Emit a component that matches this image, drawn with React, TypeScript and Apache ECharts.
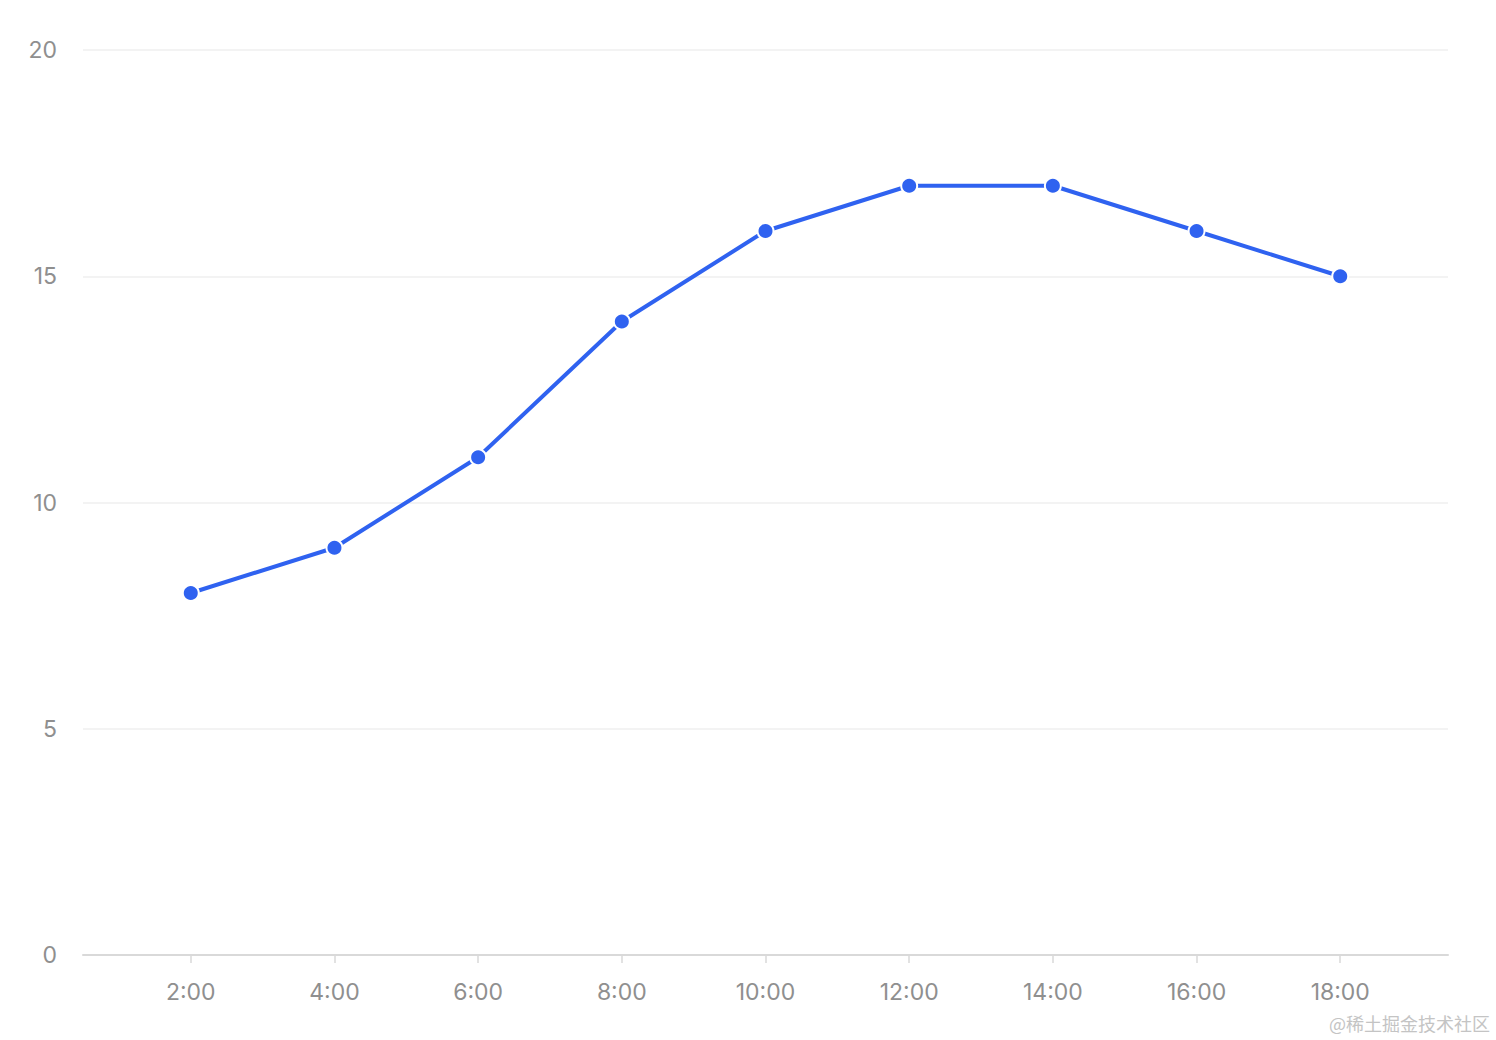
import React, { useEffect, useRef } from "react";
import * as echarts from "echarts";

const hours = [2, 4, 6, 8, 10, 12, 14, 16, 18];
const hourLabels = ["2:00", "4:00", "6:00", "8:00", "10:00", "12:00", "14:00", "16:00", "18:00"];
const values = [8, 9, 11, 14, 16, 17, 17, 16, 15];
const yTicks = [0, 5, 10, 15, 20];

export default function App() {
  const ref = useRef<HTMLDivElement>(null);
  useEffect(() => {
    if (!ref.current) return;
    const chart = echarts.init(ref.current, undefined, { renderer: "svg" });
    const labelMap: Record<number, string> = {};
    hours.forEach((h, i) => (labelMap[h] = hourLabels[i]));
    chart.setOption({
      animation: false,
      backgroundColor: "#ffffff",
      textStyle: { fontFamily: "Inter, 'Noto Sans', sans-serif" },
      grid: { left: 83, right: 48, top: 50, bottom: 85, containLabel: false },
      xAxis: {
        type: "value",
        min: 0.5,
        max: 19.5,
        axisLine: { show: true, lineStyle: { color: "#d9d9d9", width: 2 } },
        axisTick: { show: true, customValues: hours, length: 8, lineStyle: { color: "#d9d9d9", width: 1.5 } },
        axisLabel: {
          customValues: hours,
          formatter: (v: number) => labelMap[v] ?? "",
          color: "#8f8f8f",
          fontSize: 23,
          margin: 25,
        },
        splitLine: { show: false },
      },
      yAxis: {
        type: "value",
        min: yTicks[0],
        max: yTicks[yTicks.length - 1],
        interval: 5,
        axisLine: { show: false },
        axisTick: { show: false },
        axisLabel: { color: "#8f8f8f", fontSize: 23, margin: 26, padding: [4, 0, 0, 0] },
        splitLine: { lineStyle: { color: "#efefef", width: 1.5 } },
      },
      series: [
        {
          type: "line",
          data: hours.map((h, i) => [h, values[i]]),
          lineStyle: { color: "#2f62f0", width: 4 },
          itemStyle: { color: "#2f62f0", borderColor: "#ffffff", borderWidth: 2 },
          symbol: "circle",
          symbolSize: 16,
          showSymbol: true,
        },
      ],
      graphic: [
        {
          type: "text",
          right: 6,
          bottom: 8,
          style: {
            text: "@稀土掘金技术社区",
            fill: "#c4c4c4",
            fontSize: 18,
            fontFamily: "'Noto Sans CJK SC', sans-serif",
          },
        },
      ],
    });
    return () => chart.dispose();
  }, []);
  return <div ref={ref} style={{ position: "absolute", left: 0, top: 0, width: 1496, height: 1040 }} />;
}
